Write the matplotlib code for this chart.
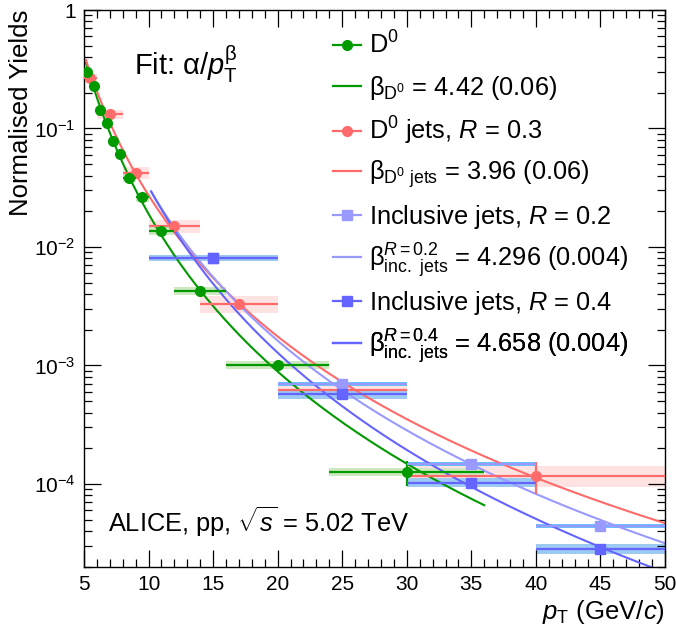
import numpy as np
import matplotlib
matplotlib.use('Agg')
import matplotlib.pyplot as plt
from matplotlib.lines import Line2D
from matplotlib.ticker import MultipleLocator, LogLocator, FuncFormatter, NullFormatter

plt.rcParams['font.family'] = ['Liberation Sans', 'DejaVu Sans']
plt.rcParams['mathtext.fontset'] = 'custom'
plt.rcParams['mathtext.rm'] = 'Liberation Sans'
plt.rcParams['mathtext.it'] = 'Liberation Sans:italic'
plt.rcParams['mathtext.bf'] = 'Liberation Sans:bold'
plt.rcParams['mathtext.sf'] = 'Liberation Sans'

# ---------------- data ----------------
# D0 mesons
d0_lo = [5.0, 5.5, 6.0, 6.5, 7.0, 7.5, 8.0, 9.0, 10.0, 12.0, 16.0, 24.0]
d0_hi = [5.5, 6.0, 6.5, 7.0, 7.5, 8.0, 9.0, 10.0, 12.0, 16.0, 24.0, 36.0]
d0_y = [0.300, 0.228, 0.143, 0.112, 0.079, 0.061, 0.038, 0.0262, 0.0137, 0.00425, 0.00101, 1.26e-4]
d0_stat = [0.006, 0.004, 0.0025, 0.002, 0.0014, 0.0011, 0.0007, 0.0005, 0.0003, 0.0001, 4e-5, 3e-5]
d0_sys = [0.024, 0.018, 0.011, 0.009, 0.0063, 0.0049, 0.003, 0.0021, 0.0011, 0.00034, 8e-5, 1.0e-5]

# D0 jets, R = 0.3
dj_lo = [5.0, 6.0, 8.0, 10.0, 14.0, 20.0, 30.0]
dj_hi = [6.0, 8.0, 10.0, 14.0, 20.0, 30.0, 50.0]
dj_y = [0.265, 0.1325, 0.0424, 0.0150, 0.0033, 6.2e-4, 1.175e-4]
dj_stat = [0.005, 0.003, 0.001, 0.0005, 0.00015, 1.1e-4, 3.5e-5]
dj_sys = [0.025, 0.012, 0.005, 0.0018, 0.00055, 9e-5, 2.3e-5]

# Inclusive jets, R = 0.2
i2_lo = [10.0, 20.0, 30.0, 40.0]
i2_hi = [20.0, 30.0, 40.0, 50.0]
i2_y = [0.0080, 6.94e-4, 1.466e-4, 4.42e-5]
i2_sys = [0.0003, 2.8e-5, 6e-6, 1.8e-6]

# Inclusive jets, R = 0.4
i4_lo = [10.0, 20.0, 30.0, 40.0]
i4_hi = [20.0, 30.0, 40.0, 50.0]
i4_y = [0.0081, 5.71e-4, 1.026e-4, 2.83e-5]
i4_sys = [0.0005, 4.6e-5, 9e-6, 2.8e-6]

# power-law fits alpha / pT^beta : (alpha, beta, pT min, pT max)
fit_d0 = (500.0, 4.42, 5.15, 36.0)
fit_dj = (249.0, 3.96, 5.15, 50.0)
fit_i2 = (628.0, 4.296, 10.2, 50.0)
fit_i4 = (1470.0, 4.658, 10.2, 50.0)

labels = [r'D$^{0}$',
          r'$\mathrm{\beta}_{\mathrm{D^{0}}}$ = 4.42 (0.06)',
          r'D$^{0}$ jets, $R$ = 0.3',
          r'$\mathrm{\beta}_{\mathrm{D^{0}\ jets}}$ = 3.96 (0.06)',
          r'Inclusive jets, $R$ = 0.2',
          r'$\mathrm{\beta}^{R=0.2}_{\mathrm{inc.\ jets}}$ = 4.296 (0.004)',
          r'Inclusive jets, $R$ = 0.4',
          r'$\mathrm{\beta}^{R=0.4}_{\mathrm{inc.\ jets}}$ = 4.658 (0.004)']

# ---------------- style ----------------
c_d0 = '#009a00'
c_d0_sys = '#cfe8c0'
c_dj = '#ff6a6a'
c_dj_sys = '#ffe3e3'
c_i2 = '#9999ff'
c_i2_sys = '#66c6ff'
c_i4 = '#6464ff'
c_i4_sys = '#9ccaf2'

LEGFS = 18.3
TICKFS = 15

fig = plt.figure(figsize=(6.76, 6.33), dpi=100)
ax = fig.add_axes([0.1243, 0.1047, 0.8594, 0.8795])
ax.set_yscale('log')
ax.set_xlim(5, 50)
ax.set_ylim(2e-5, 1)


def draw_sys(lo, hi, y, s, color, z):
    lo = np.asarray(lo); hi = np.asarray(hi); y = np.asarray(y); s = np.asarray(s)
    ax.bar(lo, 2 * s, bottom=y - s, width=hi - lo, align='edge',
           color=color, edgecolor='none', linewidth=0, zorder=z)


def draw_pts(lo, hi, y, stat, color, marker, ms, z):
    lo = np.asarray(lo); hi = np.asarray(hi)
    xc = 0.5 * (lo + hi)
    xe = 0.5 * (hi - lo)
    ax.errorbar(xc, y, xerr=xe, yerr=stat, fmt=marker, color=color, ms=ms,
                mec=color, mfc=color, elinewidth=1.6, capsize=0, zorder=z)


def draw_fit(p, color, z):
    a, b, x0, x1 = p
    xs = np.linspace(x0, x1, 300)
    ax.plot(xs, a / xs ** b, color=color, lw=1.5, zorder=z)


draw_sys(dj_lo, dj_hi, dj_y, dj_sys, c_dj_sys, 1)
draw_sys(d0_lo, d0_hi, d0_y, d0_sys, c_d0_sys, 1.1)
draw_sys(i2_lo, i2_hi, i2_y, i2_sys, c_i2_sys, 1.2)
draw_sys(i4_lo, i4_hi, i4_y, i4_sys, c_i4_sys, 1.3)

draw_fit(fit_d0, c_d0, 2)
draw_fit(fit_dj, c_dj, 2)
draw_fit(fit_i2, c_i2, 2)
draw_fit(fit_i4, c_i4, 2)

draw_pts(dj_lo, dj_hi, dj_y, dj_stat, c_dj, 'o', 7, 3)
draw_pts(d0_lo, d0_hi, d0_y, d0_stat, c_d0, 'o', 7, 3.1)
draw_pts(i2_lo, i2_hi, i2_y, None, c_i2, 's', 7.5, 3.2)
draw_pts(i4_lo, i4_hi, i4_y, None, c_i4, 's', 7.5, 3.3)

# ---------------- axes ----------------
ax.xaxis.set_major_locator(MultipleLocator(5))
ax.xaxis.set_minor_locator(MultipleLocator(1))
ax.yaxis.set_major_locator(LogLocator(base=10, numticks=20))
ax.yaxis.set_minor_locator(LogLocator(base=10, subs=np.arange(2, 10), numticks=20))
ax.yaxis.set_minor_formatter(NullFormatter())


def yfmt(v, pos):
    e = int(round(np.log10(v)))
    if e == 0:
        return '1'
    return r'$10^{%d}$' % e


ax.yaxis.set_major_formatter(FuncFormatter(yfmt))
ax.tick_params(which='both', direction='in', top=True, right=True, labelsize=TICKFS, width=0.9)
ax.tick_params(which='major', length=12.5, pad=6)
ax.tick_params(which='minor', length=6)
for sp in ax.spines.values():
    sp.set_linewidth(1.0)

ax.set_ylabel('Normalised Yields', fontsize=18.5, loc='top')
ax.yaxis.set_label_coords(-0.088, 1.0)
ax.set_xlabel(r'$p_{\mathrm{T}}$ (GeV/$c$)', fontsize=18.5, loc='right')
ax.xaxis.set_label_coords(1.0, -0.056)

ax.text(0.086, 0.883, r'Fit: $\mathrm{\alpha}/p_{\mathrm{T}}^{\mathrm{\beta}}$', transform=ax.transAxes,
        fontsize=21, va='baseline', ha='left')
ax.text(0.0413, 0.062, r'ALICE, pp, $\sqrt{s}$ = 5.02 TeV', transform=ax.transAxes,
        fontsize=18.3, va='baseline', ha='left')

# ---------------- legend ----------------
handles = [Line2D([], [], color=c_d0, lw=1.6, marker='o', ms=7),
           Line2D([], [], color=c_d0, lw=1.6),
           Line2D([], [], color=c_dj, lw=1.6, marker='o', ms=7),
           Line2D([], [], color=c_dj, lw=1.6),
           Line2D([], [], color=c_i2, lw=1.6, marker='s', ms=7.5),
           Line2D([], [], color=c_i2, lw=1.6),
           Line2D([], [], color=c_i4, lw=1.6, marker='s', ms=7.5),
           Line2D([], [], color=c_i4, lw=1.6)]
leg_x = 0.4294
leg_y0 = 0.937
leg_dy = 0.0773
for i, (h, lab) in enumerate(zip(handles, labels)):
    leg = ax.legend([h], [lab], loc='center left', bbox_to_anchor=(leg_x, leg_y0 - i * leg_dy),
                    frameon=False, borderpad=0, borderaxespad=0, handlelength=1.1,
                    handletextpad=0.3, fontsize=LEGFS)
    ax.add_artist(leg)

fig.savefig('out.png', dpi=100)
